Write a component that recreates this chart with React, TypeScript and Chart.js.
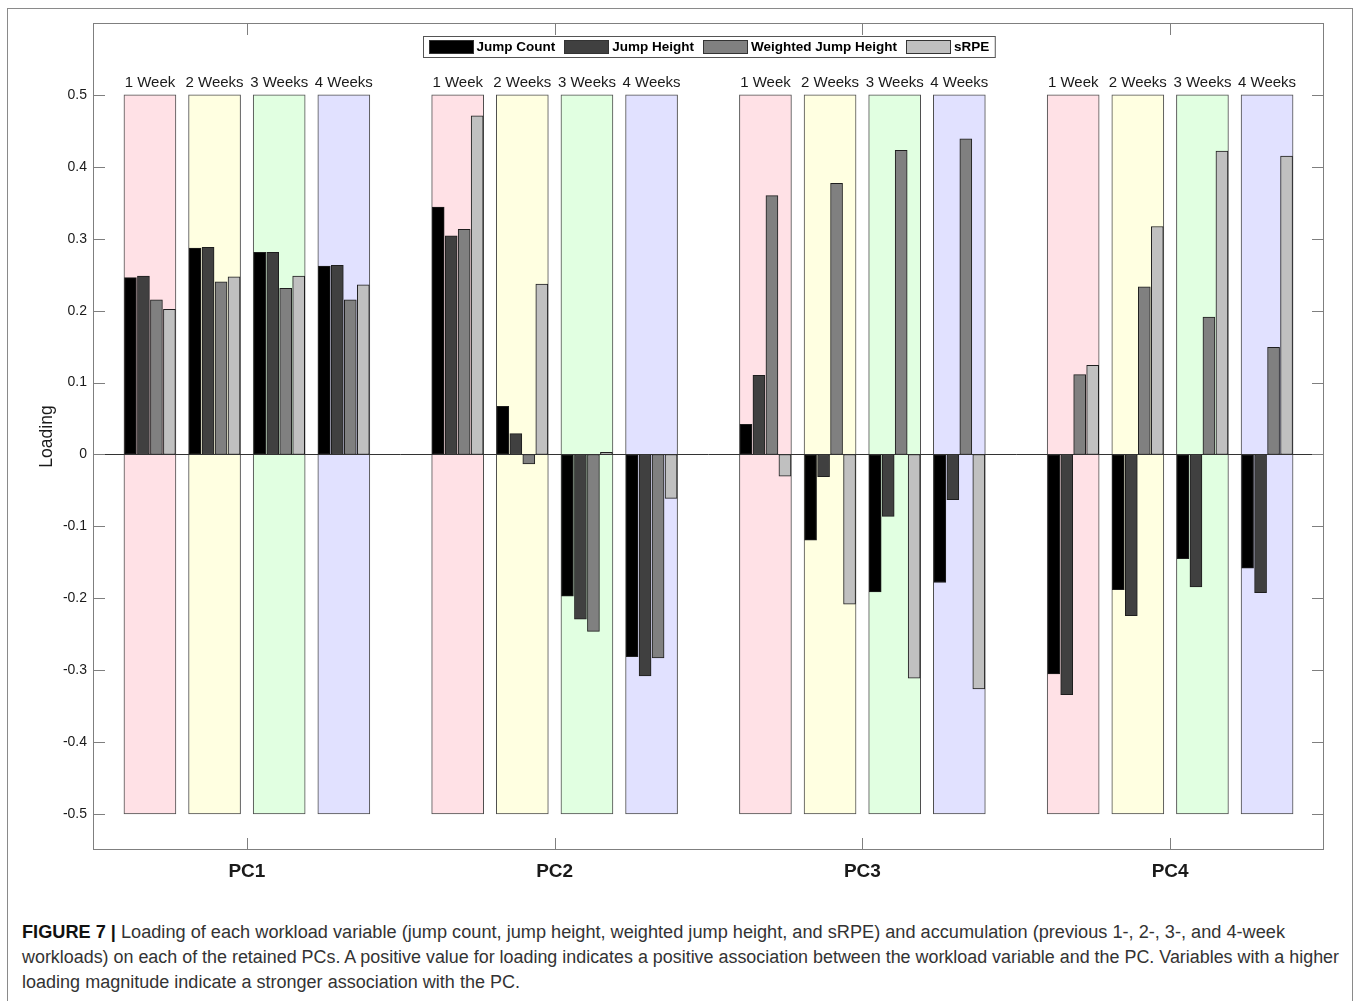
import React, { useEffect, useMemo, useRef } from "react";
import { Chart, registerables } from "chart.js";

Chart.register(...registerables);

// ---------- data ----------
const pcLabels = ["PC1", "PC2", "PC3", "PC4"];
const weekLabels = ["1 Week", "2 Weeks", "3 Weeks", "4 Weeks"];
const variableNames = ["Jump Count", "Jump Height", "Weighted Jump Height", "sRPE"];

// ordered: PC1(1W,2W,3W,4W), PC2(...), PC3(...), PC4(...)
const jumpCount = [0.246, 0.287, 0.281, 0.262, 0.344, 0.067, -0.197, -0.281, 0.042, -0.119, -0.191, -0.178, -0.305, -0.188, -0.145, -0.158];
const jumpHeight = [0.248, 0.288, 0.281, 0.263, 0.304, 0.029, -0.229, -0.308, 0.110, -0.031, -0.086, -0.063, -0.334, -0.224, -0.184, -0.192];
const weightedJumpHeight = [0.215, 0.240, 0.231, 0.215, 0.313, -0.013, -0.246, -0.283, 0.360, 0.377, 0.423, 0.439, 0.111, 0.233, 0.191, 0.149];
const sRPE = [0.202, 0.247, 0.248, 0.236, 0.471, 0.237, 0.003, -0.061, -0.030, -0.208, -0.311, -0.326, 0.124, 0.317, 0.422, 0.415];

const yTickValues = [0.5, 0.4, 0.3, 0.2, 0.1, 0, -0.1, -0.2, -0.3, -0.4, -0.5];
const yTickLabels = ["0.5", "0.4", "0.3", "0.2", "0.1", "0", "-0.1", "-0.2", "-0.3", "-0.4", "-0.5"];
const xTickValues = [1, 2, 3, 4];
const backgroundRange = [-0.5, 0.5];

// ---------- styles ----------
const variableColors = ["#000000", "#404040", "#808080", "#c0c0c0"];
const weekColors = ["#ffe1e6", "#ffffe1", "#e1ffe1", "#e1e1ff"];
const FONT = "'Liberation Sans', Arial, Helvetica, sans-serif";
const GROUP_STEP = 0.21;
const BAR_STEP = 13 / 308;

const captionLines: { bold?: string; text: string; width: number }[] = [
  {
    bold: "FIGURE 7 | ",
    text: "Loading of each workload variable (jump count, jump height, weighted jump height, and sRPE) and accumulation (previous 1-, 2-, 3-, and 4-week",
    width: 1263,
  },
  {
    text: "workloads) on each of the retained PCs. A positive value for loading indicates a positive association between the workload variable and the PC. Variables with a higher",
    width: 1319,
  },
  { text: "loading magnitude indicate a stronger association with the PC.", width: 498 },
];

const decorPlugin = {
  id: "decor",
  afterDatasetsDraw(chart: any) {
    const { ctx, chartArea: a, scales } = chart;
    const x = scales.x;
    const y = scales.y;
    ctx.save();
    // zero line
    const y0 = Math.round(y.getPixelForValue(0)) + 0.5;
    ctx.lineWidth = 1;
    ctx.strokeStyle = "#333333";
    ctx.beginPath();
    ctx.moveTo(a.left, y0);
    ctx.lineTo(a.right, y0);
    ctx.stroke();

    // box
    ctx.strokeStyle = "#7f7f7f";
    ctx.strokeRect(Math.round(a.left) + 0.5, Math.round(a.top) + 0.5, Math.round(a.right - a.left) - 1, Math.round(a.bottom - a.top) - 1);

    // ticks (inward)
    const TL = 12;
    ctx.beginPath();
    yTickValues.forEach((v) => {
      const py = Math.round(y.getPixelForValue(v)) + 0.5;
      ctx.moveTo(a.left, py);
      ctx.lineTo(a.left + TL, py);
      ctx.moveTo(a.right, py);
      ctx.lineTo(a.right - TL, py);
    });
    xTickValues.forEach((v) => {
      const px = Math.round(x.getPixelForValue(v)) + 0.5;
      ctx.moveTo(px, a.bottom);
      ctx.lineTo(px, a.bottom - TL);
      ctx.moveTo(px, a.top);
      ctx.lineTo(px, a.top + TL);
    });
    ctx.stroke();

    // week labels
    ctx.fillStyle = "#1a1a1a";
    ctx.font = `15px ${FONT}`;
    ctx.textAlign = "center";
    ctx.textBaseline = "alphabetic";
    const topPx = y.getPixelForValue(backgroundRange[1]);
    pcLabels.forEach((_, p) => {
      weekLabels.forEach((w, k) => {
        const px = x.getPixelForValue(p + 1 + (k - 1.5) * GROUP_STEP);
        ctx.fillText(w, px, topPx - 8);
      });
    });

    // y title
    ctx.save();
    ctx.translate(47, (a.top + a.bottom) / 2);
    ctx.rotate(-Math.PI / 2);
    ctx.font = `17.5px ${FONT}`;
    ctx.textBaseline = "middle";
    ctx.fillText("Loading", 0, 0);
    ctx.restore();

    // legend
    const items = chart.data.datasets.filter((d: any) => d.label !== "__bg");
    ctx.font = `bold 13.5px ${FONT}`;
    const swW = 45, swH = 14, swGap = 3, itemGap = 9, padL = 5, padR = 6;
    const widths = items.map((d: any) => ctx.measureText(d.label).width);
    let total = padL + padR + itemGap * (items.length - 1);
    widths.forEach((w: number) => (total += swW + swGap + w));
    const cx = (a.left + a.right) / 2;
    const bx = Math.round(cx - total / 2) + 0.5;
    const by = 36.5;
    const bh = 21;
    ctx.fillStyle = "#ffffff";
    ctx.fillRect(bx, by, total, bh);
    ctx.strokeStyle = "#555555";
    ctx.strokeRect(bx, by, total, bh);
    let cur = bx + padL;
    ctx.textAlign = "left";
    ctx.textBaseline = "middle";
    items.forEach((d: any, i: number) => {
      const sy = Math.round(by + (bh - swH) / 2);
      ctx.fillStyle = d.backgroundColor;
      ctx.fillRect(Math.round(cur), sy, swW, swH);
      ctx.strokeStyle = "#333333";
      ctx.strokeRect(Math.round(cur) + 0.5, sy + 0.5, swW - 1, swH - 1);
      cur += swW + swGap;
      ctx.fillStyle = "#000000";
      ctx.fillText(d.label, cur, by + bh / 2 + 0.5);
      cur += widths[i] + itemGap;
    });
    ctx.restore();
  },
};

export default function App() {
  const ref = useRef<HTMLCanvasElement>(null);

  const captionScales = useMemo(() => {
    const c = document.createElement("canvas").getContext("2d")!;
    return captionLines.map((l) => {
      let w = 0;
      if (l.bold) {
        c.font = `bold 18px ${FONT}`;
        w += c.measureText(l.bold).width;
      }
      c.font = `18px ${FONT}`;
      w += c.measureText(l.text).width;
      return w > 0 ? l.width / w : 1;
    });
  }, []);

  useEffect(() => {
    const canvas = ref.current!;
    const series = [jumpCount, jumpHeight, weightedJumpHeight, sRPE];
    const barDatasets = variableNames.map((name, v) => ({
      type: "bar" as const,
      label: name,
      data: series[v].map((val, i) => ({
        x: Math.floor(i / 4) + 1 + ((i % 4) - 1.5) * GROUP_STEP + (v - 1.5) * BAR_STEP,
        y: val,
      })),
      backgroundColor: variableColors[v],
      borderColor: "#1e1e1e",
      borderWidth: 1,
      borderSkipped: false,
      barThickness: 12,
      grouped: false,
      order: 0,
    }));
    const bgData: any[] = [];
    const bgColors: string[] = [];
    pcLabels.forEach((_, p) => {
      weekLabels.forEach((_w, k) => {
        bgData.push({ x: p + 1 + (k - 1.5) * GROUP_STEP, y: backgroundRange });
        bgColors.push(weekColors[k]);
      });
    });
    const bgDataset = {
      type: "bar" as const,
      label: "__bg",
      data: bgData,
      backgroundColor: bgColors,
      borderColor: "#4d4d4d",
      borderWidth: 1,
      borderSkipped: false,
      barThickness: 52,
      grouped: false,
      order: 1,
    };

    const chart = new Chart(canvas, {
      type: "bar",
      data: { datasets: [bgDataset, ...barDatasets] as any },
      options: {
        responsive: false,
        animation: false,
        devicePixelRatio: 1,
        layout: { padding: { top: 23, right: 34, left: 0, bottom: 0 } },
        plugins: { legend: { display: false }, tooltip: { enabled: false } },
        scales: {
          x: {
            type: "linear",
            min: 0.5,
            max: 4.5,
            offset: false,
            grid: { display: false, drawTicks: false },
            border: { display: false },
            afterBuildTicks: (s: any) => {
              s.ticks = xTickValues.map((v) => ({ value: v }));
            },
            afterFit: (s: any) => {
              s.height = 50;
            },
            ticks: {
              autoSkip: false,
              maxRotation: 0,
              padding: 10,
              color: "#1a1a1a",
              font: { family: FONT, size: 19, weight: "bold" },
              callback: (v: any) => pcLabels[xTickValues.indexOf(Number(v))] ?? "",
            },
          },
          y: {
            type: "linear",
            min: -0.55,
            max: 0.6,
            grid: { display: false, drawTicks: false },
            border: { display: false },
            afterBuildTicks: (s: any) => {
              s.ticks = yTickValues.map((v) => ({ value: v }));
            },
            afterFit: (s: any) => {
              s.width = 93;
            },
            ticks: {
              autoSkip: false,
              padding: 6,
              color: "#1a1a1a",
              font: { family: FONT, size: 14 },
              callback: (v: any) => {
                const idx = yTickValues.findIndex((t) => Math.abs(t - Number(v)) < 1e-9);
                return idx >= 0 ? yTickLabels[idx] : "";
              },
            },
          },
        },
      } as any,
      plugins: [decorPlugin],
    });
    return () => chart.destroy();
  }, []);

  return (
    <div style={{ position: "absolute", left: 0, top: 0, width: 1358, height: 1001, overflow: "hidden", background: "#fff" }}>
      <div
        style={{
          position: "absolute",
          left: 7,
          top: 8,
          width: 1346,
          height: 993,
          boxSizing: "border-box",
          borderTop: "1px solid #8a8a8a",
          borderLeft: "1px solid #8a8a8a",
          borderRight: "1px solid #8a8a8a",
        }}
      />
      <canvas ref={ref} width={1358} height={900} style={{ position: "absolute", left: 0, top: 0, width: 1358, height: 900 }} />
      <div style={{ position: "absolute", left: 22, top: 920, fontFamily: FONT, fontSize: 18, color: "#333" }}>
        {captionLines.map((l, i) => (
          <div
            key={i}
            style={{
              height: 25,
              lineHeight: "25px",
              whiteSpace: "nowrap",
              transformOrigin: "left center",
              transform: `scaleX(${captionScales[i]})`,
            }}
          >
            {l.bold ? <span style={{ fontWeight: "bold", color: "#111" }}>{l.bold}</span> : null}
            {l.text}
          </div>
        ))}
      </div>
    </div>
  );
}
